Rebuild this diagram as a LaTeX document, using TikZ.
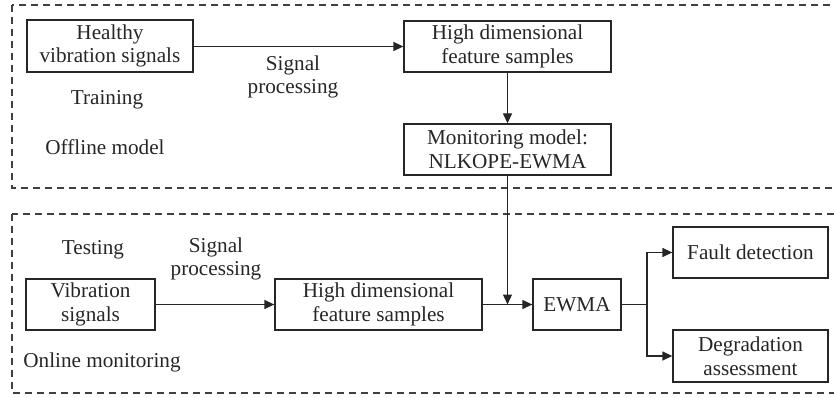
\documentclass[tikz,border=0pt]{standalone}
\usepackage{fontspec}
\setmainfont{Liberation Serif}
\usetikzlibrary{arrows.meta}
\begin{document}
\begin{tikzpicture}[x=1pt,y=-1pt,
  box/.style={draw=black!85, line width=1.3pt, rectangle, inner sep=0pt, align=center, font=\fontsize{21.2}{23.5}\selectfont, text=black!85},
  lbl/.style={align=center, font=\fontsize{21.2}{23.5}\selectfont, text=black!85},
  conn/.style={draw=black!85, line width=1.3pt, -{Triangle[length=10pt,width=9pt]}},
  plain/.style={draw=black!85, line width=1.3pt},
  region/.style={draw=black!75, line width=1.3pt, dash pattern=on 7pt off 5pt}]
\clip (0,0) rectangle (834,398);
\draw[region] (12,5) rectangle (850,188);
\draw[region] (12,214) rectangle (850,393);

\node[box, minimum width=166pt, minimum height=52pt] (hv) at (110,46) {Healthy\\vibration signals};
\node[box, minimum width=207pt, minimum height=51pt] (hd1) at (507.5,46.5) {High dimensional\\feature samples};
\node[box, minimum width=207pt, minimum height=51pt] (mm) at (507.5,149.5) {Monitoring model:\\NLKOPE-EWMA};
\node[box, minimum width=129pt, minimum height=51pt] (vs) at (90.5,304.5) {Vibration\\signals};
\node[box, minimum width=207pt, minimum height=51pt] (hd2) at (378.5,304.5) {High dimensional\\feature samples};
\node[box, minimum width=88pt, minimum height=51pt] (ew) at (577,304.5) {EWMA};
\node[box, minimum width=155pt, minimum height=51pt] (fd) at (750.5,252.5) {Fault detection};
\node[box, minimum width=155pt, minimum height=52pt] (da) at (750.5,356) {Degradation\\assessment};

\node[lbl] (sp1) at (293,77) {Signal\\processing};
\node[lbl] (tr) at (107,100) {Training};
\node[lbl] (om) at (105,147) {Offline model};
\node[lbl] (te) at (93,250) {Testing};
\node[lbl] (sp2) at (216,259) {Signal\\processing};
\node[lbl] (on) at (102,362) {Online monitoring};

\coordinate (j) at (mm.south |- hd2.east);
\coordinate (s) at (647,304.5);

\draw[conn] (hv.east |- hd1.west) -- (hd1.west);
\draw[conn] (hd1) -- (mm);
\draw[conn] (mm.south) -- (j);
\draw[conn] (vs.east) -- (hd2.west);
\draw[conn] (hd2.east) -- (ew.west);
\draw[plain] (ew.east) -- (s);
\draw[conn] (s) |- (fd.west);
\draw[conn] (s) |- (da.west);
\end{tikzpicture}
\end{document}
